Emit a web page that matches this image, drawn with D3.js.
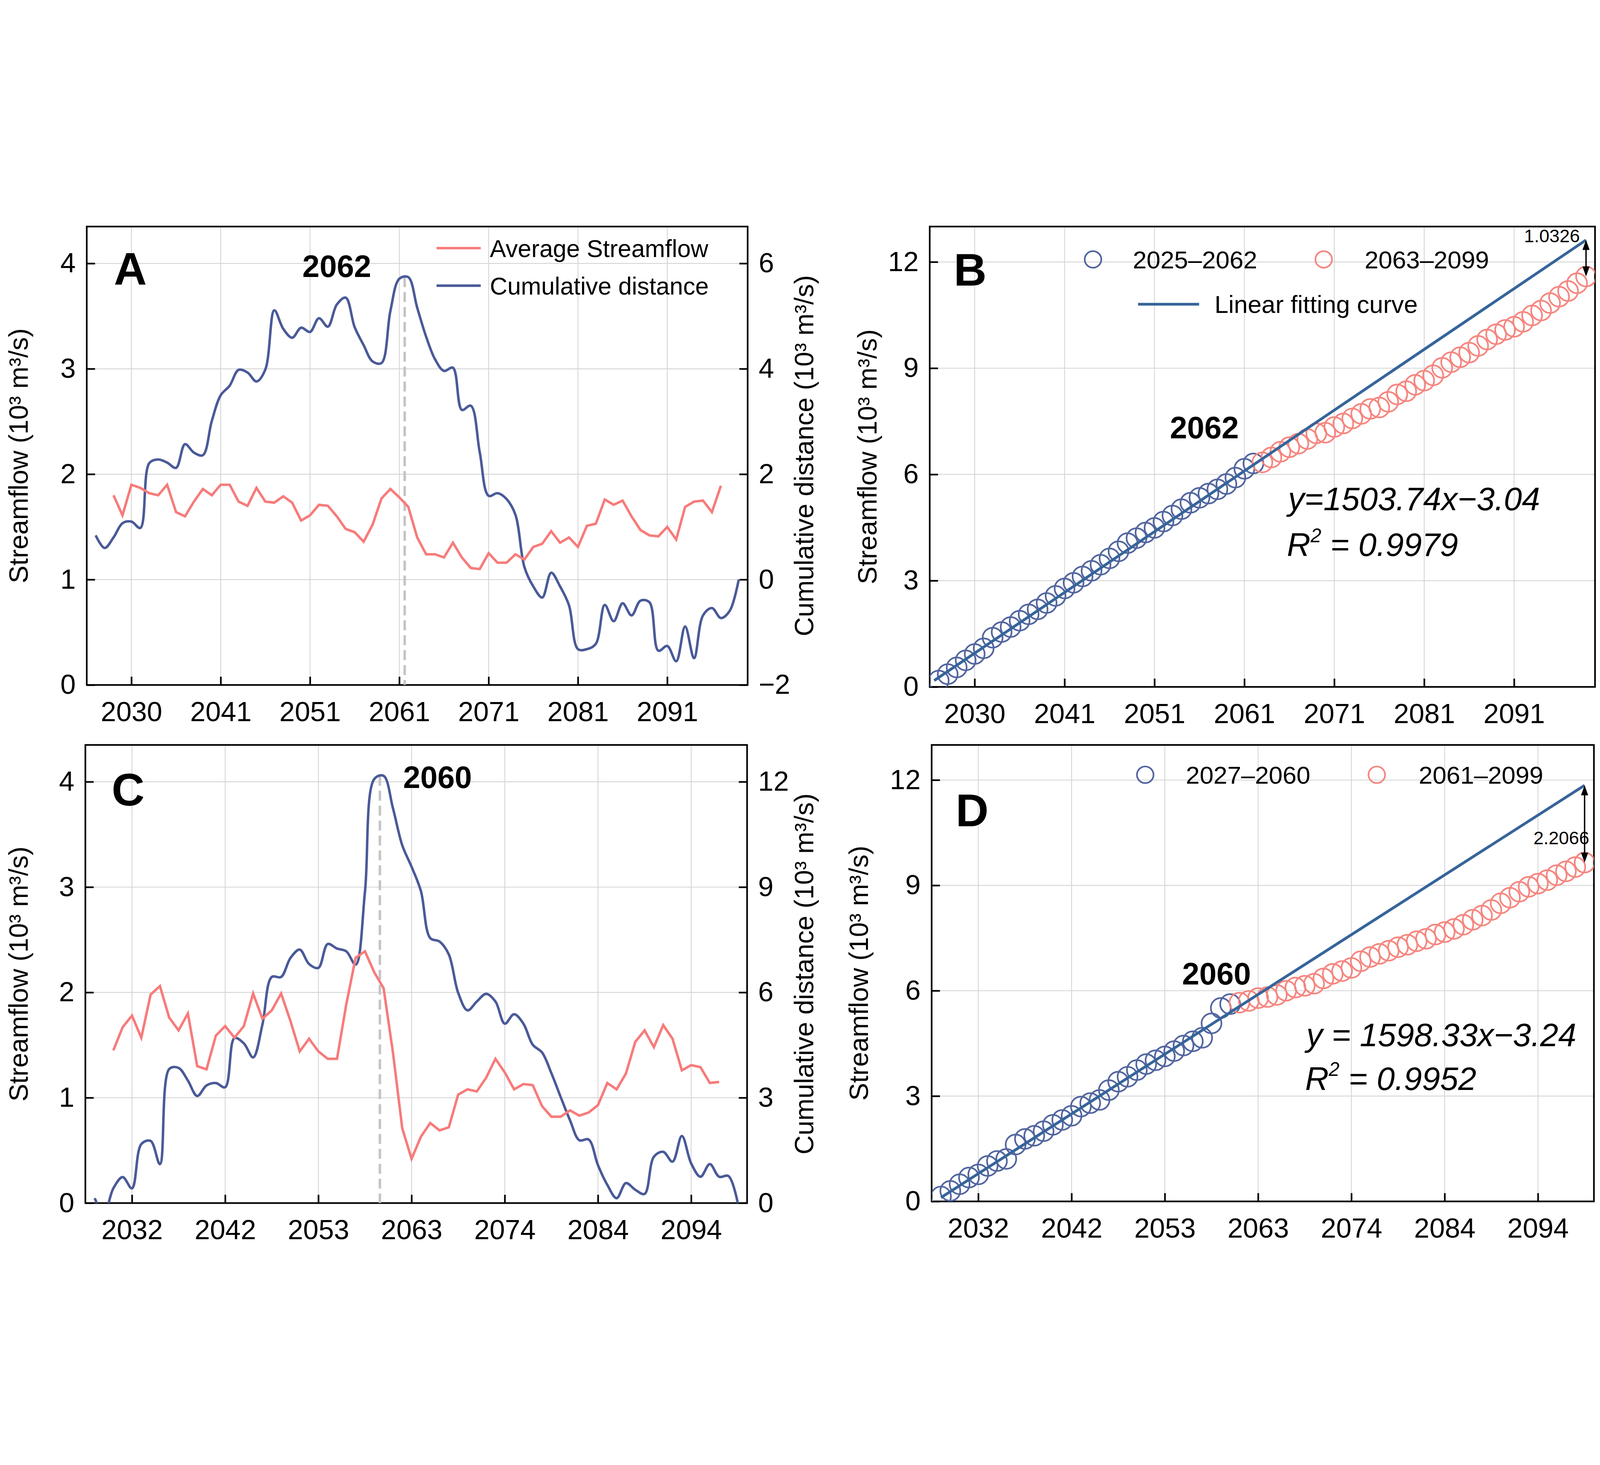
<!DOCTYPE html>
<html><head><meta charset="utf-8">
<script src="https://cdn.jsdelivr.net/npm/d3@7"></script>
<style>html,body{margin:0;padding:0;background:#fff;overflow:hidden;width:100%;height:100%}svg{display:block;width:100vw;height:100vh}text{font-family:"Liberation Sans",Arial,sans-serif}</style>
</head><body><svg id="c" viewBox="0 0 5791 3750" preserveAspectRatio="xMidYMid meet"></svg>
<script>
// ---------- DATA ----------
const aTickVals=[2030,2040,2050,2060,2070,2080,2090];
const aTickLabels=["2030","2041","2051","2061","2071","2081","2091"];
const cTickVals=[2032,2042,2052,2062,2072,2082,2092];
const cTickLabels=["2032","2042","2053","2063","2074","2084","2094"];

const aRedStart=2028;
const aRed=[1.80,1.61,1.90,1.87,1.82,1.80,1.90,1.64,1.60,1.74,1.86,1.80,1.90,1.90,1.74,1.70,1.87,1.74,1.73,1.79,1.73,1.56,1.61,1.71,1.70,1.60,1.48,1.45,1.36,1.52,1.77,1.86,1.78,1.69,1.40,1.24,1.24,1.21,1.35,1.21,1.11,1.10,1.25,1.16,1.16,1.24,1.19,1.31,1.34,1.46,1.35,1.40,1.31,1.51,1.53,1.76,1.71,1.75,1.60,1.47,1.42,1.41,1.50,1.38,1.69,1.74,1.75,1.64,1.89];
const aBlueStart=2026;
const aBlue=[0.84,0.60,0.80,1.07,1.10,0.98,2.21,2.28,2.22,2.12,2.57,2.41,2.36,3.01,3.50,3.68,3.98,3.93,3.76,3.99,5.11,4.76,4.59,4.78,4.70,4.96,4.80,5.22,5.35,4.79,4.45,4.14,4.11,5.10,5.71,5.74,5.16,4.61,4.18,3.96,4.02,3.22,3.30,2.42,1.59,1.64,1.53,1.23,0.24,-0.13,-0.34,0.13,-0.13,-0.49,-1.32,-1.32,-1.22,-0.48,-0.79,-0.45,-0.68,-0.40,-0.43,-1.35,-1.26,-1.55,-0.89,-1.49,-0.68,-0.54,-0.73,-0.59,0.00];

const cRedStart=2030;
const cRed=[1.45,1.67,1.78,1.57,1.98,2.06,1.76,1.64,1.80,1.30,1.27,1.59,1.68,1.57,1.68,1.99,1.75,1.83,1.99,1.73,1.44,1.56,1.44,1.37,1.37,1.89,2.33,2.39,2.19,2.04,1.43,0.71,0.42,0.63,0.76,0.69,0.72,1.03,1.08,1.06,1.19,1.37,1.24,1.08,1.13,1.12,0.92,0.82,0.82,0.88,0.83,0.86,0.93,1.14,1.08,1.23,1.53,1.64,1.48,1.69,1.56,1.26,1.31,1.29,1.14,1.15];
const cBlueStart=2028;
const cBlue=[0.14,-0.3,0.42,0.74,0.42,1.68,1.77,1.11,3.82,3.85,3.49,3.05,3.35,3.42,3.30,4.70,4.55,4.15,5.09,6.44,6.44,6.98,7.22,6.81,6.70,7.38,7.25,7.17,6.79,8.87,12.08,12.17,11.25,10.19,9.58,8.89,7.55,7.45,7.08,5.99,5.49,5.74,5.96,5.74,5.11,5.38,5.11,4.51,4.29,3.70,3.02,2.36,1.79,1.81,1.08,0.52,0.14,0.57,0.38,0.26,1.32,1.46,1.18,1.91,1.13,0.75,1.11,0.75,0.77,0.0];

const bStart=2026;
const bBlue=[0.18,0.36,0.55,0.75,0.93,1.09,1.39,1.55,1.69,1.87,2.05,2.19,2.37,2.57,2.78,2.94,3.12,3.28,3.45,3.63,3.83,4.06,4.20,4.36,4.49,4.67,4.84,5.02,5.20,5.34,5.46,5.58,5.73,5.91,6.16,6.31];
const bRed=[6.34,6.48,6.64,6.77,6.87,7.00,7.16,7.18,7.34,7.44,7.58,7.71,7.85,7.89,8.05,8.26,8.35,8.53,8.65,8.80,9.01,9.17,9.31,9.44,9.63,9.81,9.96,10.08,10.17,10.31,10.49,10.63,10.84,11.02,11.18,11.40,11.59];
const bFit=[[2025.5,0.18],[2098,12.62]];

const dStart=2028;
const dBlue=[0.14,0.30,0.49,0.68,0.77,1.01,1.15,1.21,1.62,1.78,1.87,2.00,2.18,2.32,2.44,2.70,2.80,2.89,3.17,3.41,3.55,3.74,3.91,4.02,4.13,4.28,4.44,4.56,4.66,5.07,5.51,5.62];
const dRed=[5.66,5.71,5.79,5.82,5.88,6.00,6.09,6.14,6.20,6.35,6.48,6.56,6.65,6.84,6.96,7.05,7.14,7.24,7.31,7.41,7.48,7.60,7.67,7.76,7.88,8.02,8.14,8.30,8.49,8.65,8.82,8.96,9.05,9.15,9.29,9.40,9.52,9.65];
const dFit=[[2028,0.11],[2097,11.85]];

// ---------- STYLE ----------
const RED="#f77b7b", BLUE="#4a5a98", FIT="#36649a", CRED="#f5867f", CBLUE="#52659f";
const svg=d3.select("#c");
const FS=100;
let clipId=0;

function frame(g,x,y,p,xTicks,xLabels,yTicks,rightTicks){
  g.selectAll(null).data(xTicks).enter().append("line")
    .attr("x1",d=>x(d)).attr("x2",d=>x(d)).attr("y1",p.t).attr("y2",p.b).attr("stroke","#d4d4d4").attr("stroke-width",3);
  g.selectAll(null).data(yTicks).enter().append("line")
    .attr("y1",d=>y(d)).attr("y2",d=>y(d)).attr("x1",p.l).attr("x2",p.r).attr("stroke","#d4d4d4").attr("stroke-width",3);
  const ax=d3.axisBottom(x).tickValues(xTicks).tickFormat((d,i)=>xLabels[i]).tickSizeInner(-30).tickSizeOuter(0).tickPadding(60);
  const xa=g.append("g").attr("transform",`translate(0,${p.b})`).call(ax);
  const ay=d3.axisLeft(y).tickValues(yTicks).tickFormat(d3.format("d")).tickSizeInner(-30).tickSizeOuter(0).tickPadding(40);
  const ya=g.append("g").attr("transform",`translate(${p.l},0)`).call(ay);
  [xa,ya].forEach(a=>{a.select(".domain").remove();a.selectAll("line").attr("stroke","#000").attr("stroke-width",6);
    a.selectAll("text").attr("font-size",FS).attr("fill","#000").attr("font-family","Liberation Sans");});
  if(rightTicks){
    const ar=d3.axisRight(rightTicks.scale).tickValues(rightTicks.vals).tickFormat(d3.format("d")).tickSizeInner(-30).tickSizeOuter(0).tickPadding(40);
    const ra=g.append("g").attr("transform",`translate(${p.r},0)`).call(ar);
    ra.select(".domain").remove();ra.selectAll("line").attr("stroke","#000").attr("stroke-width",6);
    ra.selectAll("text").attr("font-size",FS).attr("fill","#000").attr("font-family","Liberation Sans");
  }
  g.append("rect").attr("x",p.l).attr("y",p.t).attr("width",p.r-p.l).attr("height",p.b-p.t).attr("fill","none").attr("stroke","#000").attr("stroke-width",6);
}
function vtitle(g,xp,yc,txt){
  g.append("text").attr("transform",`translate(${xp},${yc}) rotate(-90)`).attr("text-anchor","middle").attr("font-size",96).text(txt);
}
function clip(p){const id="cl"+(clipId++);svg.append("clipPath").attr("id",id).append("rect").attr("x",p.l).attr("y",p.t).attr("width",p.r-p.l).attr("height",p.b-p.t);return `url(#${id})`;}

function linePanel(o){
  const p=o.p, g=svg.append("g");
  const x=d3.scaleLinear().domain(o.xd).range([p.l,p.r]);
  const y=d3.scaleLinear().domain(o.yd).range([p.b,p.t]);
  const y2=d3.scaleLinear().domain(o.y2d).range([p.b,p.t]);
  frame(g,x,y,p,o.xt,o.xl,o.yt,{scale:y2,vals:o.y2t});
  const dg=g.append("g").attr("clip-path",clip(p));
  dg.append("line").attr("x1",x(o.peak)).attr("x2",x(o.peak)).attr("y1",y2(o.peakVal)).attr("y2",p.b)
    .attr("stroke","#c4c4c4").attr("stroke-width",9).attr("stroke-dasharray","36,18");
  dg.append("path").datum(o.blue).attr("fill","none").attr("stroke",BLUE).attr("stroke-width",9)
    .attr("d",d3.line().x((d,i)=>x(o.blueStart+i)).y(d=>y2(d)).curve(d3.curveCatmullRom));
  dg.append("path").datum(o.red).attr("fill","none").attr("stroke",RED).attr("stroke-width",9)
    .attr("d",d3.line().x((d,i)=>x(o.redStart+i)).y(d=>y(d)));
  vtitle(g,o.lt,(p.t+p.b)/2,"Streamflow (10³ m³/s)");
  vtitle(g,o.rt,(p.t+p.b)/2,"Cumulative distance (10³ m³/s)");
  g.append("text").attr("x",o.letter[0]).attr("y",o.letter[1]).attr("font-size",165).attr("font-weight","bold").text(o.L);
  g.append("text").attr("x",o.yr[0]).attr("y",o.yr[1]).attr("text-anchor",o.yr[2]).attr("font-size",112).attr("font-weight","bold").text(o.yrT);
  return g;
}
function scatterPanel(o){
  const p=o.p, g=svg.append("g");
  const x=d3.scaleLinear().domain(o.xd).range([p.l,p.r]);
  const y=d3.scaleLinear().domain([0,13]).range([p.b,p.t]);
  frame(g,x,y,p,o.xt,o.xl,[0,3,6,9,12],null);
  const dg=g.append("g").attr("clip-path",clip(p));
  dg.selectAll(null).data(o.blue).enter().append("circle").attr("cx",(d,i)=>x(o.start+i)).attr("cy",d=>y(d)).attr("r",36)
    .attr("fill","none").attr("stroke",CBLUE).attr("stroke-width",6);
  dg.selectAll(null).data(o.red).enter().append("circle").attr("cx",(d,i)=>x(o.start+o.blue.length+i)).attr("cy",d=>y(d)).attr("r",36)
    .attr("fill","none").attr("stroke",CRED).attr("stroke-width",6);
  dg.append("path").datum(o.fit).attr("fill","none").attr("stroke",FIT).attr("stroke-width",10)
    .attr("d",d3.line().x(d=>x(d[0])).y(d=>y(d[1])));
  const ax=x(o.arrow[0]), y1=y(o.arrow[1]), y2v=y(o.arrow[2]);
  g.append("line").attr("x1",ax).attr("x2",ax).attr("y1",y1+30).attr("y2",y2v-30).attr("stroke","#000").attr("stroke-width",5);
  g.append("path").attr("d",`M${ax},${y1} l-13,36 l26,0 z M${ax},${y2v} l-13,-36 l26,0 z`).attr("fill","#000");
  g.append("text").attr("x",o.arrowLbl[0]).attr("y",o.arrowLbl[1]).attr("text-anchor","end").attr("font-size",66).text(o.arrowT);
  vtitle(g,o.lt,(p.t+p.b)/2,"Streamflow (10³ m³/s)");
  g.append("text").attr("x",o.letter[0]).attr("y",o.letter[1]).attr("font-size",165).attr("font-weight","bold").text(o.L);
  g.append("text").attr("x",o.yr[0]).attr("y",o.yr[1]).attr("text-anchor","middle").attr("font-size",112).attr("font-weight","bold").text(o.yrT);
  g.append("text").attr("x",o.eq[0]).attr("y",o.eq[1]).attr("font-size",118).attr("font-style","italic").text(o.eqT);
  const r=g.append("text").attr("x",o.eq[0]-4).attr("y",o.eq[2]).attr("font-size",118).attr("font-style","italic");
  r.append("tspan").text("R");r.append("tspan").attr("dy",-50).attr("font-size",70).text("2");
  r.append("tspan").attr("dy",50).text(o.r2T);
  const lg=o.leg;
  g.append("circle").attr("cx",lg.c1).attr("cy",lg.y).attr("r",30).attr("fill","none").attr("stroke",CBLUE).attr("stroke-width",6);
  g.append("text").attr("x",lg.t1).attr("y",lg.y+32).attr("font-size",90).text(lg.s1);
  g.append("circle").attr("cx",lg.c2).attr("cy",lg.y).attr("r",30).attr("fill","none").attr("stroke",CRED).attr("stroke-width",6);
  g.append("text").attr("x",lg.t2).attr("y",lg.y+32).attr("font-size",90).text(lg.s2);
  if(lg.fitY){
    g.append("line").attr("x1",lg.f1).attr("x2",lg.f2).attr("y1",lg.fitY).attr("y2",lg.fitY).attr("stroke",FIT).attr("stroke-width",10);
    g.append("text").attr("x",lg.f2+56).attr("y",lg.fitY+32).attr("font-size",90).text("Linear fitting curve");
  }
}

// ---------- PANELS ----------
const gA=linePanel({p:{l:314,r:2706,t:44,b:1703},xd:[2025,2099],xt:aTickVals,xl:aTickLabels,yd:[0,4.35],yt:[0,1,2,3,4],
  y2d:[-2,6.7],y2t:[-2,0,2,4,6],red:aRed,redStart:aRedStart,blue:aBlue,blueStart:aBlueStart,peak:2060.6,peakVal:5.74,
  lt:100,rt:2944,letter:[412,255],L:"A",yr:[1219,227,"middle"],yrT:"2062"});
gA.append("line").attr("x1",1580).attr("x2",1740).attr("y1",122).attr("y2",122).attr("stroke",RED).attr("stroke-width",9);
gA.append("text").attr("x",1773).attr("y",154).attr("font-size",88).text("Average Streamflow");
gA.append("line").attr("x1",1580).attr("x2",1740).attr("y1",258).attr("y2",258).attr("stroke",BLUE).attr("stroke-width",9);
gA.append("text").attr("x",1773).attr("y",290).attr("font-size",88).text("Cumulative distance");

linePanel({p:{l:309,r:2704,t:1920,b:3578},xd:[2027,2098],xt:cTickVals,xl:cTickLabels,yd:[0,4.35],yt:[0,1,2,3,4],
  y2d:[0,13.05],y2t:[0,3,6,9,12],red:cRed,redStart:cRedStart,blue:cBlue,blueStart:cBlueStart,peak:2058.6,peakVal:12.17,
  lt:100,rt:2944,letter:[404,2140],L:"C",yr:[1459,2076,"start"],yrT:"2060"});

scatterPanel({p:{l:3365,r:5773,t:44,b:1710},xd:[2025,2099],xt:aTickVals,xl:aTickLabels,blue:bBlue,red:bRed,start:bStart,fit:bFit,
  arrow:[2098,12.62,11.59],arrowLbl:[5718,100],arrowT:"1.0326",lt:3172,letter:[3452,258],L:"B",yr:[4359,810],yrT:"2062",
  eq:[4662,1070,1236],eqT:"y=1503.74x\u22123.04",r2T:" = 0.9979",
  leg:{y:163,c1:3956,t1:4100,s1:"2025\u20132062",c2:4791,t2:4939,s2:"2063\u20132099",fitY:325,f1:4119,f2:4340}});

scatterPanel({p:{l:3372,r:5769,t:1920,b:3572},xd:[2027,2098],xt:cTickVals,xl:cTickLabels,blue:dBlue,red:dRed,start:dStart,fit:dFit,
  arrow:[2097,11.85,9.65],arrowLbl:[5752,2279],arrowT:"2.2066",lt:3142,letter:[3459,2214],L:"D",yr:[4403,2787],yrT:"2060",
  eq:[4728,3010,3168],eqT:"y = 1598.33x\u22123.24",r2T:" = 0.9952",
  leg:{y:2028,c1:4145,t1:4292,s1:"2027\u20132060",c2:4983,t2:5135,s2:"2061\u20132099"}});
</script></body></html>
